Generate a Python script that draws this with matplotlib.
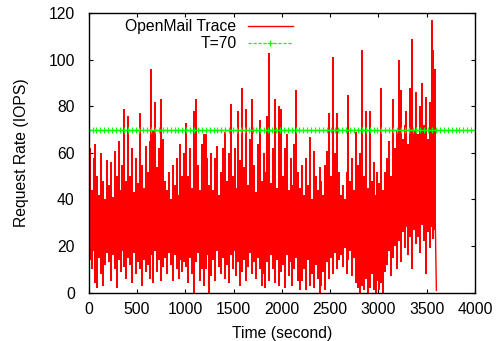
"""Request rate of the OpenMail trace against the T=70 threshold."""

import matplotlib
matplotlib.use("Agg")
import matplotlib.pyplot as plt
import numpy as np
from matplotlib.lines import Line2D

# Trace summarised in 20 s bins: the highest and lowest request rate in each bin.
bin_seconds = 20
trace_high = [
    62, 44, 58, 64, 50, 42, 60, 48, 40, 57,
    46, 56, 41, 61, 50, 65, 44, 55, 79, 48,
    76, 50, 62, 43, 58, 47, 77, 55, 45, 63,
    52, 65, 96, 70, 82, 54, 62, 83, 66, 48,
    44, 52, 40, 55, 46, 58, 42, 64, 50, 60,
    73, 50, 62, 45, 78, 83, 55, 44, 64, 68,
    68, 58, 46, 60, 44, 58, 63, 42, 52, 62,
    69, 48, 60, 81, 50, 62, 45, 78, 57, 88,
    54, 79, 46, 66, 83, 55, 43, 64, 74, 48,
    60, 52, 76, 103, 47, 62, 83, 45, 80, 79,
    50, 62, 68, 44, 58, 46, 64, 87, 52, 45,
    55, 42, 58, 46, 67, 40, 61, 50, 44, 54,
    48, 42, 55, 61, 77, 50, 101, 60, 77, 52,
    42, 46, 40, 52, 85, 48, 58, 44, 69, 55,
    60, 104, 50, 78, 45, 78, 48, 56, 42, 52,
    47, 88, 44, 52, 58, 65, 50, 83, 62, 70,
    100, 87, 66, 72, 78, 64, 88, 109, 70, 86,
    68, 80, 90, 72, 84, 66, 82, 117, 104, 96,
]
trace_low = [
    14, 10, 18, 4, 2, 15, 8, 3, 12, 17,
    13, 5, 16, 10, 2, 14, 9, 18, 11, 6,
    15, 12, 4, 17, 8, 13, 10, 3, 14, 9,
    12, 6, 16, 4, 18, 9, 14, 5, 11, 15,
    8, 17, 12, 5, 16, 10, 6, 14, 9, 13,
    11, 4, 15, 8, 0, 13, 17, 5, 10, 3,
    10, 16, 0, 7, 14, 5, 18, 11, 8, 15,
    6, 12, 4, 16, 10, 18, 7, 13, 3, 9,
    14, 5, 11, 17, 8, 13, 6, 15, 10, 3,
    8, 2, 13, 5, 16, 10, 4, 14, 3, 9,
    12, 2, 16, 7, 13, 3, 10, 15, 5, 1,
    5, 10, 1, 14, 3, 8, 2, 12, 6, 0,
    3, 9, 1, 13, 6, 15, 8, 17, 10, 14,
    16, 11, 19, 8, 14, 18, 7, 15, 4, 2,
    0, 3, 1, 6, 0, 2, 8, 1, 0, 5,
    1, 4, 0, 9, 12, 18, 7, 15, 20, 10,
    22, 13, 26, 19, 28, 16, 24, 10, 27, 21,
    24, 17, 29, 22, 8, 26, 19, 28, 23, 27,
]
trace_end = 1   # last sample at t=3600 drops to (almost) zero
threshold = 70

n_bins = len(trace_high)
t_bins = np.arange(n_bins) * bin_seconds + bin_seconds / 2
t_end = n_bins * bin_seconds

plt.rcParams["font.family"] = ["Liberation Sans", "DejaVu Sans"]
plt.rcParams["font.size"] = 11.3

fig = plt.figure(figsize=(4.96, 3.41), dpi=100)
ax = fig.add_axes([0.1788, 0.1416, 0.7789, 0.8203])

RED = "#ff0000"
GREEN = "#00ff00"

# each bin is a vertical stroke from its low to its high, wide enough to touch
# its neighbours so the trace reads as one dense band
ax.vlines(t_bins, trace_low, trace_high, color=RED, linewidth=1.45)
ax.plot([t_bins[-1], t_end], [trace_low[-1], trace_end], color=RED, linewidth=1.0)

# threshold drawn like a sampled gnuplot function (100 samples)
t_samples = np.linspace(0, 4000, 100)
ax.plot(t_samples, np.full_like(t_samples, threshold), color=GREEN,
        linestyle=(0, (2.5, 1.5)), linewidth=0.9, marker="+", markersize=4,
        markeredgewidth=0.9)

ax.set_xlim(0, 4000)
ax.set_ylim(0, 120)
ax.set_xticks(np.arange(0, 4001, 500))
ax.set_yticks(np.arange(0, 121, 20))
ax.tick_params(direction="in", top=True, right=True, length=3.2, width=0.8,
               labelsize=11.3)
ax.tick_params(axis="x", pad=7)
ax.tick_params(axis="y", pad=10)
for side in ax.spines.values():
    side.set_linewidth(1.0)

ax.set_xlabel("Time (second)", fontsize=11.3, labelpad=6)
ax.set_ylabel("Request Rate (IOPS)", fontsize=11.3, labelpad=14)

handles = [
    Line2D([], [], color=RED, linewidth=1.0),
    Line2D([], [], color=GREEN, linestyle=(0, (2.5, 1.5)), linewidth=0.9,
           marker="+", markersize=4, markeredgewidth=0.9),
]
ax.legend(handles, ["OpenMail Trace", "T=%d" % threshold],
          loc="upper right", bbox_to_anchor=(0.529, 0.978),
          frameon=False, markerfirst=False, numpoints=1,
          handlelength=2.9, handletextpad=0.7, labelspacing=0.12,
          borderaxespad=0.0, borderpad=0.0, fontsize=11.3)

fig.savefig("out.png", dpi=100)
